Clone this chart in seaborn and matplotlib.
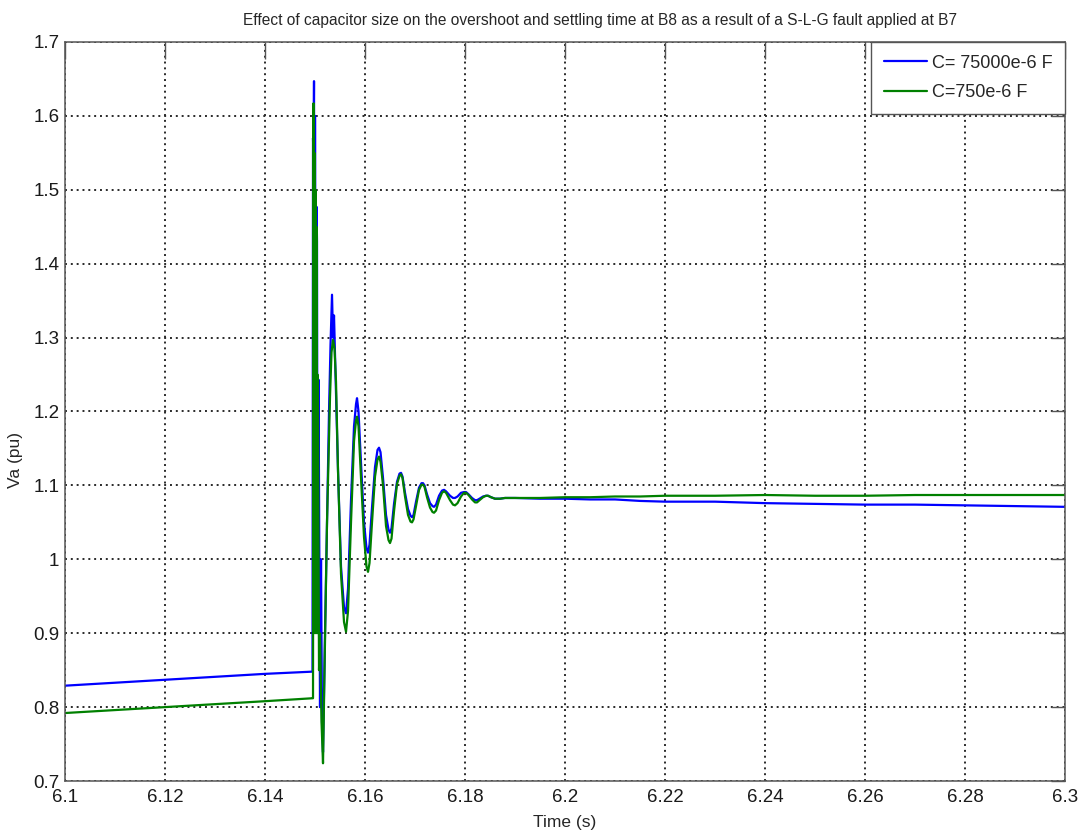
import numpy as np
import pandas as pd
import matplotlib
matplotlib.use("Agg")
import matplotlib.pyplot as plt
import seaborn as sns

# Phase-a voltage at bus B8 (pu) versus time (s) for two capacitor sizes
t_big = [6.100, 6.110, 6.120, 6.130, 6.140, 6.1495,
         6.1496, 6.1497, 6.1498, 6.1499, 6.1500, 6.1502, 6.1503, 6.1504,
         6.1505, 6.1507, 6.1508, 6.1510, 6.1512, 6.1514, 6.1516,
         6.1520, 6.1524, 6.1528, 6.1531, 6.1534, 6.1536, 6.1538, 6.1541,
         6.1546, 6.1552, 6.1558, 6.1562, 6.1566, 6.1572, 6.1578, 6.1582,
         6.1584, 6.1587, 6.1592, 6.1598, 6.1603, 6.1606, 6.1609, 6.1614,
         6.1620, 6.1625, 6.1628, 6.1631, 6.1636, 6.1642, 6.1647, 6.1650,
         6.1653, 6.1658, 6.1664, 6.1669, 6.1672, 6.1675, 6.1680, 6.1686,
         6.1691, 6.1694, 6.1697, 6.1702, 6.1708, 6.1713, 6.1716, 6.1719,
         6.1724, 6.1730, 6.1735, 6.1738, 6.1742, 6.1748, 6.1754, 6.1758,
         6.1762, 6.1770, 6.1776, 6.1780, 6.1785, 6.1792, 6.1798, 6.1802,
         6.1807, 6.1814, 6.1820, 6.1824, 6.1829, 6.1836, 6.1842, 6.1846,
         6.1852, 6.1860, 6.1870, 6.1880, 6.1900, 6.1950, 6.2000, 6.2050,
         6.2100, 6.2150, 6.2200, 6.2300, 6.2400, 6.2500, 6.2600, 6.2700,
         6.2800, 6.2900, 6.3000]
v_big = [0.829, 0.833, 0.837, 0.841, 0.845, 0.848,
         1.570, 1.540, 1.647, 1.200, 1.600, 1.100, 1.477, 1.430,
         0.950, 1.243, 1.100, 0.800, 1.000, 0.780, 0.739,
         0.900, 1.050, 1.200, 1.290, 1.358, 1.300, 1.330, 1.250,
         1.120, 0.990, 0.935, 0.927, 0.960, 1.080, 1.180, 1.210,
         1.218, 1.200, 1.130, 1.050, 1.015, 1.009, 1.020, 1.070,
         1.125, 1.148, 1.151, 1.145, 1.110, 1.060, 1.040, 1.036,
         1.042, 1.075, 1.105, 1.116, 1.117, 1.112, 1.090, 1.068,
         1.059, 1.057, 1.060, 1.078, 1.097, 1.103, 1.103, 1.100,
         1.088, 1.076, 1.072, 1.071, 1.074, 1.086, 1.093, 1.094,
         1.092, 1.086, 1.083, 1.083, 1.085, 1.090, 1.091, 1.091,
         1.088, 1.083, 1.080, 1.080, 1.082, 1.085, 1.086, 1.086,
         1.084, 1.082, 1.082, 1.083, 1.083, 1.082, 1.082, 1.081,
         1.081, 1.079, 1.078, 1.078, 1.076, 1.075, 1.074, 1.074,
         1.073, 1.072, 1.071]

t_small = [6.100, 6.110, 6.120, 6.130, 6.140, 6.1495,
           6.1496, 6.1497, 6.1498, 6.1499, 6.1500, 6.1501, 6.1502, 6.1503,
           6.1504, 6.1505, 6.1506, 6.1508, 6.1510, 6.1513, 6.1516,
           6.1519, 6.1524, 6.1530, 6.1533, 6.1536, 6.1539, 6.1542,
           6.1546, 6.1552, 6.1558, 6.1562, 6.1566, 6.1572, 6.1578, 6.1582,
           6.1584, 6.1587, 6.1592, 6.1598, 6.1603, 6.1606, 6.1609, 6.1614,
           6.1620, 6.1625, 6.1628, 6.1631, 6.1636, 6.1642, 6.1647, 6.1650,
           6.1653, 6.1658, 6.1664, 6.1669, 6.1672, 6.1675, 6.1680, 6.1686,
           6.1691, 6.1694, 6.1697, 6.1702, 6.1708, 6.1713, 6.1716, 6.1719,
           6.1724, 6.1730, 6.1735, 6.1738, 6.1742, 6.1748, 6.1754, 6.1758,
           6.1762, 6.1770, 6.1776, 6.1780, 6.1785, 6.1792, 6.1798, 6.1802,
           6.1807, 6.1814, 6.1820, 6.1824, 6.1829, 6.1836, 6.1842, 6.1846,
           6.1852, 6.1860, 6.1870, 6.1880, 6.1900, 6.1950, 6.2000, 6.2050,
           6.2100, 6.2150, 6.2200, 6.2300, 6.2400, 6.2500, 6.2600, 6.2700,
           6.2800, 6.2900, 6.3000]
v_small = [0.792, 0.796, 0.800, 0.804, 0.808, 0.812,
           0.812, 1.617, 0.950, 1.550, 0.900, 1.500, 1.000, 1.450,
           0.900, 1.250, 1.200, 0.850, 0.900, 0.780, 0.724,
           0.850, 1.050, 1.220, 1.280, 1.297, 1.285, 1.240,
           1.120, 0.980, 0.915, 0.902, 0.930, 1.050, 1.160, 1.188,
           1.193, 1.180, 1.110, 1.030, 0.990, 0.983, 0.995, 1.050,
           1.112, 1.135, 1.139, 1.132, 1.100, 1.045, 1.026, 1.022,
           1.028, 1.065, 1.102, 1.113, 1.115, 1.110, 1.085, 1.060,
           1.051, 1.050, 1.054, 1.072, 1.094, 1.101, 1.101, 1.098,
           1.084, 1.070, 1.064, 1.063, 1.066, 1.080, 1.090, 1.092,
           1.090, 1.080, 1.074, 1.073, 1.076, 1.085, 1.090, 1.090,
           1.087, 1.081, 1.077, 1.077, 1.080, 1.084, 1.086, 1.086,
           1.084, 1.082, 1.082, 1.083, 1.083, 1.083, 1.084, 1.084,
           1.085, 1.085, 1.086, 1.086, 1.087, 1.086, 1.086, 1.087,
           1.087, 1.087, 1.087]

labels = ["C= 75000e-6 F", "C=750e-6 F"]
colors = ["#0000FF", "#008000"]

x_ticks = [6.1, 6.12, 6.14, 6.16, 6.18, 6.2, 6.22, 6.24, 6.26, 6.28, 6.3]
x_tick_labels = ["6.1", "6.12", "6.14", "6.16", "6.18", "6.2", "6.22",
                 "6.24", "6.26", "6.28", "6.3"]
y_ticks = [0.7, 0.8, 0.9, 1.0, 1.1, 1.2, 1.3, 1.4, 1.5, 1.6, 1.7]
y_tick_labels = ["0.7", "0.8", "0.9", "1", "1.1", "1.2", "1.3", "1.4",
                 "1.5", "1.6", "1.7"]

sns.set_style("white")
plt.rcParams["font.family"] = ["Liberation Sans", "DejaVu Sans"]

fig = plt.figure(figsize=(10.87, 8.38), dpi=100)
ax = fig.add_axes([0.0598, 0.068, 0.92, 0.8819])

# one trace per capacitor size, drawn in order so the green one sits on top
for lab, col, tt, vv in zip(labels, colors, [t_big, t_small], [v_big, v_small]):
    sub = pd.DataFrame({"t": tt, "v": vv})
    sns.lineplot(data=sub, x="t", y="v", color=col, linewidth=1.6,
                 sort=False, estimator=None, ax=ax, label=lab)

ax.set_xlim(6.1, 6.3)
ax.set_ylim(0.7, 1.7)
ax.set_xticks(x_ticks)
ax.set_xticklabels(x_tick_labels)
ax.set_yticks(y_ticks)
ax.set_yticklabels(y_tick_labels)

ax.grid(True, color="#2a2a2a", linestyle=(0, (1, 2)), linewidth=1.4)
ax.set_axisbelow(True)
for s in ax.spines.values():
    s.set_color("#555555")
    s.set_linewidth(1.1)

ax.tick_params(axis="both", which="major", direction="in", top=True,
               right=True, color="#555555", width=1.0, labelsize=13.5,
               labelcolor="#1a1a1a")
ax.tick_params(axis="x", length=12, pad=6)
ax.tick_params(axis="y", length=10, pad=4)

ax.set_xlabel("Time (s)", fontsize=12.5, labelpad=6)
ax.set_ylabel("Va (pu)", fontsize=12.5, labelpad=8)
ax.yaxis.set_label_coords(-0.042, 0.435)
ax.set_title("Effect of capacitor size on the overshoot and settling time at B8 "
             "as a result of a S-L-G fault applied at B7",
             fontsize=11.2, pad=12, x=0.535)

leg = ax.legend(loc="upper right", borderaxespad=0, fancybox=False,
                frameon=True, fontsize=13, handlelength=2.4,
                handletextpad=0.25, borderpad=0.7, labelspacing=0.7)
leg.get_frame().set_edgecolor("#555555")
leg.get_frame().set_linewidth(1.0)
leg.get_frame().set_alpha(1.0)

fig.savefig("out.png", dpi=100, facecolor="white")
